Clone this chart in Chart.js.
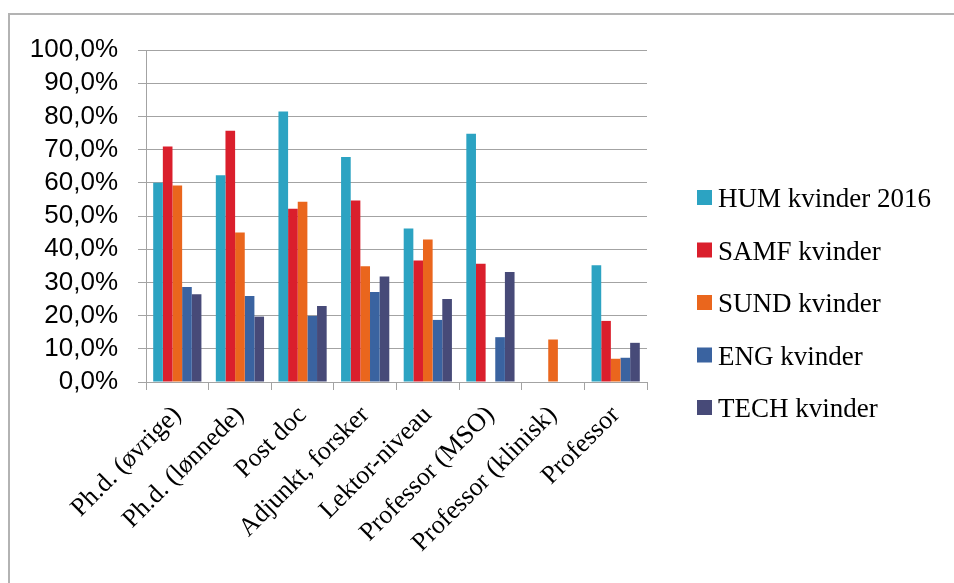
<!DOCTYPE html>
<html>
<head>
<meta charset="utf-8">
<script src="https://cdn.jsdelivr.net/npm/chart.js@4/dist/chart.umd.min.js"></script>
<style>
  html, body { margin: 0; padding: 0; background: #fff; }
  #wrap { position: relative; width: 954px; height: 583px; }
</style>
</head>
<body>
<div id="wrap"><canvas id="chart"></canvas></div>
<script>
// Stillingskategorier
const categories = ['Ph.d. (øvrige)', 'Ph.d. (lønnede)', 'Post doc', 'Adjunkt, forsker',
  'Lektor-niveau', 'Professor (MSO)', 'Professor (klinisk)', 'Professor'];

// Andel kvinder pr. fakultet (%)
const humKvinder  = [60.0, 62.3, 81.5, 67.8, 46.2, 74.8, null, 35.2];
const samfKvinder = [70.9, 75.7, 52.2, 54.7, 36.6, 35.6, null, 18.4];
const sundKvinder = [59.2, 45.0, 54.3, 34.9, 42.9, null, 12.8, 7.0];
const engKvinder  = [28.6, 25.9, 19.9, 27.1, 18.7, 13.5, null, 7.3];
const techKvinder = [26.4, 19.7, 22.9, 31.8, 25.0, 33.1, null, 11.8];

const seriesNames = ['HUM kvinder 2016', 'SAMF kvinder', 'SUND kvinder', 'ENG kvinder', 'TECH kvinder'];
const seriesColors = ['#2ca3c2', '#da1f2c', '#ea661d', '#3a63a0', '#474a78'];
const seriesValues = [humKvinder, samfKvinder, sundKvinder, engKvinder, techKvinder];

const gridColor = '#a3a3a3';
const serifFont = '"Liberation Serif", "Times New Roman", serif';

// Ramme om diagrammet
const framePlugin = {
  id: 'frame',
  beforeDraw(chart) {
    const ctx = chart.ctx;
    ctx.save();
    ctx.strokeStyle = '#b3b3b3';
    ctx.lineWidth = 2;
    ctx.beginPath();
    ctx.moveTo(9, chart.height);
    ctx.lineTo(9, 14);
    ctx.lineTo(chart.width, 14);
    ctx.stroke();
    ctx.restore();
  }
};

// Forklaring til højre for plotområdet
const sideLegend = {
  id: 'sideLegend',
  afterDraw(chart) {
    const ctx = chart.ctx;
    const x = 697, y0 = 197.5, step = 52.5, box = 15;
    ctx.save();
    ctx.font = '27px ' + serifFont;
    ctx.textBaseline = 'alphabetic';
    ctx.textAlign = 'left';
    chart.data.datasets.forEach((ds, i) => {
      const cy = y0 + i * step;
      ctx.fillStyle = ds.backgroundColor;
      ctx.fillRect(x, cy - box / 2, box, box);
      ctx.fillStyle = '#000';
      ctx.fillText(ds.label, x + box + 6, cy + 9.5);
    });
    ctx.restore();
  }
};

new Chart(document.getElementById('chart'), {
  type: 'bar',
  data: {
    labels: categories,
    datasets: seriesNames.map((name, i) => ({
      label: name,
      data: seriesValues[i],
      backgroundColor: seriesColors[i],
      borderWidth: 0,
      categoryPercentage: 0.77,
      barPercentage: 1.0
    }))
  },
  options: {
    responsive: true,
    maintainAspectRatio: false,
    animation: false,
    layout: { padding: { top: 50, right: 307, bottom: 0, left: 0 } },
    plugins: {
      legend: { display: false },
      tooltip: { enabled: false }
    },
    scales: {
      x: {
        grid: { drawOnChartArea: false, drawTicks: true, tickLength: 8, offset: true, color: gridColor },
        border: { display: true, color: gridColor },
        ticks: {
          autoSkip: false, minRotation: 45, maxRotation: 45, padding: 10,
          color: '#000', font: { family: serifFont, size: 26 }
        },
        afterFit(scale) { scale.height = 201; }
      },
      y: {
        min: 0, max: 100,
        grid: { color: gridColor, tickLength: 8, drawTicks: true },
        border: { display: true, color: gridColor },
        ticks: {
          stepSize: 10, padding: 20, color: '#000', autoSkip: false,
          font: { family: '"Liberation Sans", Arial, sans-serif', size: 26, lineHeight: 1 },
          callback: v => v.toFixed(1).replace('.', ',') + '%'
        },
        afterFit(scale) { scale.width = 146; }
      }
    }
  },
  plugins: [framePlugin, sideLegend]
});
</script>
</body>
</html>
